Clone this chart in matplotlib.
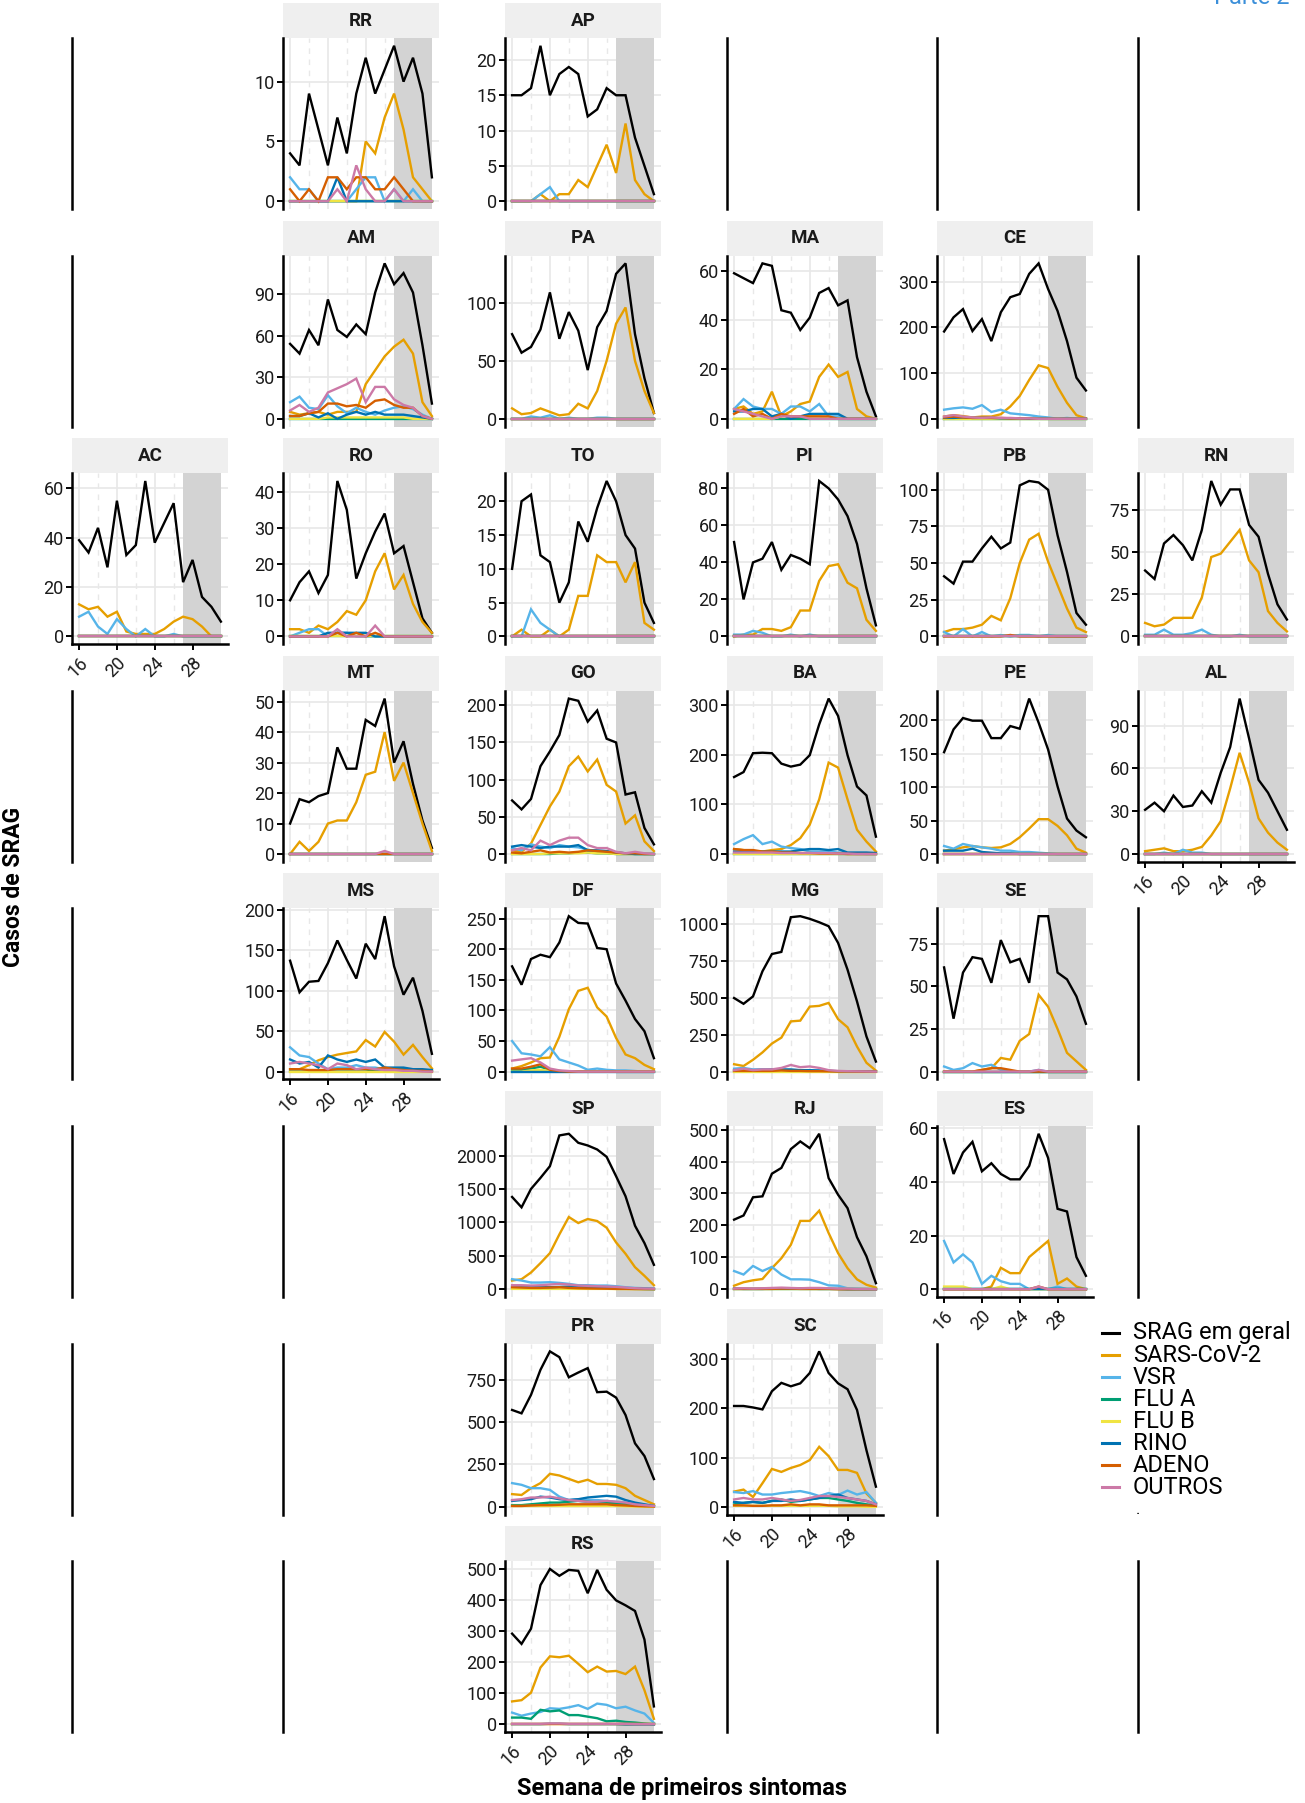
import matplotlib.pyplot as plt
from matplotlib.lines import Line2D
from matplotlib.ticker import MultipleLocator, FuncFormatter

plt.rcParams['font.family'] = ['Roboto', 'DejaVu Sans']

# semanas epidemiologicas
weeks = [16, 17, 18, 19, 20, 21, 22, 23, 24, 25, 26, 27, 28, 29, 30, 31]
zeros16 = [0, 0, 0, 0, 0, 0, 0, 0, 0, 0, 0, 0, 0, 0, 0, 0]

srag = {
    'RR': [4, 3, 9, 6, 3, 7, 4, 9, 12, 9, 11, 13, 10, 12, 9, 2],
    'AP': [15, 15, 16, 22, 15, 18, 19, 18, 12, 13, 16, 15, 15, 9, 5, 1],
    'AM': [54, 47, 64, 53, 86, 64, 59, 68, 61, 91, 112, 97, 105, 91, 53, 11],
    'PA': [73, 57, 62, 77, 109, 69, 92, 76, 42, 79, 93, 125, 134, 73, 35, 5],
    'MA': [59, 57, 55, 63, 62, 44, 43, 36, 41, 51, 53, 46, 48, 25, 11, 1],
    'CE': [191, 222, 240, 192, 218, 170, 233, 266, 273, 317, 340, 284, 236, 170, 90, 62],
    'AC': [39, 34, 44, 28, 55, 33, 37, 63, 38, 46, 54, 22, 31, 16, 12, 6],
    'RO': [10, 15, 18, 12, 17, 43, 35, 16, 23, 29, 34, 23, 25, 15, 5, 1],
    'TO': [10, 20, 21, 12, 11, 5, 8, 17, 14, 19, 23, 20, 15, 13, 5, 2],
    'PI': [51, 20, 40, 42, 51, 36, 44, 42, 39, 84, 80, 74, 65, 50, 26, 6],
    'PB': [41, 36, 51, 51, 60, 68, 60, 64, 103, 106, 105, 100, 69, 44, 16, 8],
    'RN': [39, 34, 55, 60, 54, 45, 63, 92, 78, 87, 87, 66, 59, 37, 19, 10],
    'MT': [10, 18, 17, 19, 20, 35, 28, 28, 44, 42, 51, 30, 37, 23, 11, 2],
    'GO': [72, 60, 74, 118, 138, 160, 209, 206, 178, 193, 155, 150, 80, 83, 35, 13],
    'BA': [155, 165, 203, 204, 203, 182, 176, 180, 199, 261, 313, 278, 199, 136, 118, 35],
    'PE': [152, 186, 203, 199, 199, 173, 173, 191, 187, 232, 196, 156, 101, 53, 35, 25],
    'AL': [31, 36, 30, 41, 33, 34, 44, 36, 57, 75, 109, 81, 52, 43, 30, 17],
    'MS': [137, 98, 111, 112, 134, 162, 138, 115, 158, 139, 192, 130, 95, 116, 75, 22],
    'DF': [172, 142, 184, 191, 187, 211, 254, 243, 242, 202, 200, 144, 116, 86, 66, 22],
    'MG': [498, 459, 509, 679, 796, 810, 1045, 1052, 1034, 1011, 984, 871, 690, 475, 238, 68],
    'SE': [61, 31, 58, 67, 66, 52, 77, 64, 66, 52, 91, 91, 58, 54, 44, 28],
    'SP': [1380, 1225, 1500, 1665, 1840, 2300, 2325, 2190, 2150, 2090, 1980, 1690, 1390, 950, 690, 365],
    'RJ': [218, 231, 288, 291, 362, 380, 439, 463, 442, 487, 348, 296, 254, 163, 103, 19],
    'ES': [56, 43, 51, 55, 44, 47, 43, 41, 41, 46, 58, 49, 30, 29, 12, 5],
    'PR': [572, 552, 661, 809, 918, 884, 765, 793, 819, 677, 680, 645, 542, 375, 300, 164],
    'SC': [205, 205, 202, 198, 235, 252, 245, 251, 272, 316, 272, 251, 239, 197, 115, 41],
    'RS': [292, 259, 308, 448, 500, 478, 497, 494, 422, 497, 433, 399, 383, 365, 273, 58],
}

sars = {
    'RR': [0, 0, 0, 0, 0, 0, 0, 0, 5, 4, 7, 9, 6, 2, 1, 0],
    'AP': [0, 0, 0, 1, 0, 1, 1, 3, 2, 5, 8, 4, 11, 3, 1, 0],
    'AM': [5, 3, 4, 5, 3, 5, 5, 5, 25, 35, 45, 52, 57, 47, 12, 2],
    'PA': [9, 4, 5, 9, 6, 3, 4, 13, 9, 24, 50, 82, 96, 50, 24, 5],
    'MA': [4, 5, 2, 3, 11, 1, 3, 6, 7, 17, 22, 17, 19, 4, 1, 0],
    'CE': [5, 8, 6, 3, 5, 5, 10, 27, 50, 85, 117, 111, 70, 35, 8, 1],
    'AC': [13, 11, 12, 8, 10, 2, 1, 1, 1, 3, 6, 8, 7, 4, 0, 0],
    'RO': [2, 2, 1, 3, 2, 4, 7, 6, 10, 18, 23, 13, 17, 9, 4, 1],
    'TO': [0, 1, 0, 0, 1, 0, 1, 6, 6, 12, 11, 11, 8, 11, 2, 1],
    'PI': [0, 1, 1, 4, 4, 3, 5, 14, 14, 30, 38, 39, 29, 26, 9, 3],
    'PB': [3, 5, 5, 6, 8, 14, 11, 26, 50, 66, 70, 51, 35, 19, 6, 3],
    'RN': [8, 6, 7, 11, 11, 11, 23, 47, 49, 56, 63, 45, 38, 15, 8, 3],
    'MT': [0, 4, 1, 4, 10, 11, 11, 17, 26, 27, 40, 24, 30, 20, 10, 1],
    'GO': [5, 3, 14, 39, 64, 84, 118, 131, 111, 127, 93, 84, 41, 52, 17, 4],
    'BA': [10, 8, 5, 5, 8, 10, 18, 32, 59, 110, 184, 174, 110, 49, 25, 5],
    'PE': [5, 7, 10, 12, 10, 9, 10, 15, 25, 38, 52, 52, 42, 28, 8, 2],
    'AL': [2, 3, 4, 2, 2, 3, 5, 13, 23, 46, 71, 50, 25, 15, 8, 3],
    'MS': [3, 3, 8, 14, 18, 21, 23, 25, 39, 31, 49, 37, 21, 33, 18, 4],
    'DF': [5, 9, 15, 22, 23, 57, 102, 132, 137, 105, 90, 55, 28, 22, 11, 4],
    'MG': [50, 38, 80, 130, 190, 230, 340, 345, 440, 445, 465, 355, 300, 170, 60, 7],
    'SE': [0, 0, 0, 0, 1, 2, 8, 7, 18, 22, 45, 38, 25, 11, 6, 1],
    'SP': [130, 150, 250, 390, 540, 820, 1080, 990, 1050, 1020, 920, 700, 530, 330, 200, 60],
    'RJ': [11, 22, 28, 32, 66, 97, 139, 214, 214, 246, 176, 113, 66, 31, 14, 5],
    'ES': [0, 0, 0, 0, 0, 1, 8, 6, 6, 12, 15, 18, 2, 4, 1, 0],
    'PR': [75, 70, 110, 140, 195, 185, 165, 145, 160, 135, 135, 130, 110, 65, 40, 15],
    'SC': [31, 35, 20, 48, 77, 71, 79, 85, 95, 122, 103, 75, 75, 69, 27, 8],
    'RS': [74, 78, 102, 183, 219, 216, 221, 195, 168, 186, 170, 172, 162, 186, 110, 18],
}

vsr = {
    'RR': [2, 1, 1, 0, 0, 0, 0, 1, 2, 2, 0, 1, 0, 1, 0, 0],
    'AP': [0, 0, 0, 1, 2, 0, 0, 0, 0, 0, 0, 0, 0, 0, 0, 0],
    'AM': [12, 16, 8, 7, 17, 9, 4, 8, 5, 3, 6, 8, 9, 7, 3, 0],
    'PA': [0, 0, 2, 1, 3, 0, 1, 0, 0, 1, 1, 0, 0, 0, 0, 0],
    'MA': [4, 8, 5, 4, 4, 2, 5, 5, 3, 6, 1, 1, 0, 0, 0, 0],
    'CE': [20, 23, 25, 22, 30, 15, 20, 12, 10, 8, 5, 3, 0, 2, 0, 0],
    'AC': [8, 10, 4, 1, 7, 3, 0, 3, 0, 0, 1, 0, 0, 0, 0, 0],
    'RO': [0, 1, 2, 2, 0, 1, 1, 0, 0, 0, 0, 0, 0, 0, 0, 0],
    'TO': [0, 0, 4, 2, 1, 0, 0, 0, 0, 0, 0, 0, 0, 0, 0, 0],
    'PI': [1, 1, 3, 2, 0, 0, 1, 0, 1, 0, 0, 0, 0, 0, 0, 0],
    'PB': [3, 0, 5, 0, 3, 0, 1, 0, 1, 1, 0, 1, 0, 0, 0, 0],
    'RN': [1, 1, 4, 1, 1, 2, 4, 1, 0, 0, 1, 0, 0, 0, 0, 0],
    'GO': [8, 5, 13, 10, 8, 12, 10, 9, 6, 3, 3, 2, 1, 0, 0, 0],
    'BA': [20, 30, 38, 20, 25, 15, 12, 10, 5, 5, 5, 3, 1, 1, 0, 0],
    'PE': [12, 8, 15, 12, 10, 8, 5, 5, 3, 3, 2, 1, 0, 0, 0, 0],
    'AL': [0, 0, 1, 0, 3, 1, 1, 0, 0, 0, 0, 0, 0, 0, 0, 0],
    'MS': [30, 20, 18, 10, 3, 5, 5, 8, 5, 5, 3, 3, 2, 2, 2, 1],
    'DF': [50, 30, 28, 25, 40, 20, 15, 10, 3, 5, 3, 2, 2, 1, 0, 0],
    'MG': [20, 25, 15, 15, 10, 10, 8, 5, 5, 5, 3, 3, 2, 1, 0, 0],
    'SE': [3, 1, 2, 5, 3, 4, 1, 0, 0, 0, 1, 0, 0, 0, 0, 0],
    'SP': [150, 130, 100, 100, 105, 95, 80, 60, 60, 55, 55, 45, 30, 20, 15, 10],
    'RJ': [57, 46, 73, 57, 70, 46, 31, 31, 30, 22, 12, 11, 3, 2, 1, 0],
    'ES': [18, 10, 13, 10, 2, 5, 3, 2, 2, 0, 0, 0, 1, 0, 0, 0],
    'PR': [140, 130, 110, 110, 100, 60, 40, 45, 40, 40, 35, 30, 25, 15, 10, 5],
    'SC': [30, 28, 32, 25, 25, 28, 30, 32, 28, 22, 28, 24, 33, 25, 30, 8],
    'RS': [38, 28, 35, 40, 52, 50, 55, 62, 50, 67, 63, 52, 57, 45, 35, 5],
}

flu_a = {
    'GO': [0, 0, 0, 0, 0, 1, 1, 2, 2, 1, 1, 0, 0, 0, 0, 0],
    'MS': [0, 0, 0, 0, 0, 0, 0, 0, 0, 2, 3, 4, 3, 2, 1, 0],
    'DF': [2, 3, 5, 8, 3, 1, 0, 0, 0, 0, 0, 0, 0, 0, 0, 0],
    'MG': [2, 2, 2, 2, 3, 3, 3, 2, 2, 2, 1, 1, 1, 0, 0, 0],
    'SP': [10, 10, 10, 10, 10, 12, 15, 15, 15, 15, 15, 12, 8, 5, 3, 2],
    'PR': [10, 10, 15, 20, 25, 25, 30, 35, 30, 25, 25, 20, 15, 10, 5, 2],
    'SC': [5, 8, 10, 8, 12, 15, 10, 12, 15, 18, 18, 15, 12, 8, 5, 2],
    'RS': [22, 22, 18, 47, 42, 45, 30, 30, 25, 20, 10, 12, 8, 6, 3, 1],
}

flu_b = {
    'AM': [0, 0, 0, 0, 1, 1, 1, 1, 1, 1, 1, 1, 1, 0, 0, 0],
    'MA': [0, 0, 0, 0, 0, 1, 1, 1, 1, 1, 0, 0, 0, 0, 0, 0],
    'GO': [0, 0, 0, 0, 1, 1, 1, 1, 2, 1, 1, 0, 0, 0, 0, 0],
    'DF': [0, 0, 2, 3, 1, 0, 0, 0, 0, 0, 0, 0, 0, 0, 0, 0],
    'SP': [5, 5, 5, 5, 5, 5, 5, 5, 5, 5, 5, 3, 2, 1, 0, 0],
    'PR': [5, 5, 5, 5, 5, 5, 5, 5, 5, 5, 5, 5, 3, 2, 1, 0],
    'SC': [2, 2, 2, 2, 2, 2, 2, 2, 2, 2, 2, 1, 1, 1, 0, 0],
    'ES': [1, 1, 1, 0, 0, 0, 1, 0, 0, 0, 0, 0, 0, 0, 0, 0],
}

rino = {
    'RR': [0, 0, 0, 0, 0, 2, 0, 0, 0, 0, 0, 0, 0, 0, 0, 0],
    'AM': [2, 2, 4, 1, 4, 0, 3, 5, 3, 5, 3, 3, 3, 2, 1, 0],
    'MA': [3, 3, 4, 4, 1, 2, 0, 1, 2, 2, 2, 2, 0, 0, 0, 0],
    'CE': [2, 2, 3, 2, 2, 2, 1, 1, 1, 0, 0, 0, 0, 0, 0, 0],
    'RO': [0, 0, 0, 0, 1, 1, 1, 1, 1, 0, 0, 0, 0, 0, 0, 0],
    'GO': [10, 12, 10, 8, 10, 10, 10, 12, 5, 5, 4, 2, 1, 0, 0, 0],
    'BA': [5, 5, 5, 5, 5, 5, 5, 8, 10, 10, 8, 10, 3, 3, 3, 2],
    'PE': [5, 5, 5, 8, 3, 2, 1, 1, 0, 0, 0, 0, 0, 0, 0, 0],
    'MS': [15, 10, 12, 5, 20, 15, 12, 15, 12, 15, 5, 5, 5, 3, 3, 2],
    'MG': [10, 10, 10, 12, 15, 15, 15, 10, 10, 8, 5, 3, 2, 1, 0, 0],
    'SP': [40, 35, 30, 30, 30, 35, 40, 35, 30, 25, 20, 15, 10, 8, 5, 3],
    'RJ': [2, 1, 1, 1, 2, 2, 2, 2, 2, 1, 1, 1, 0, 0, 0, 0],
    'PR': [35, 40, 45, 60, 55, 45, 40, 45, 55, 60, 65, 60, 40, 25, 15, 5],
    'SC': [10, 8, 10, 8, 12, 12, 15, 12, 15, 18, 22, 25, 18, 15, 12, 5],
    'RS': [1, 1, 1, 1, 2, 2, 1, 1, 1, 1, 1, 1, 0, 0, 0, 0],
}

adeno = {
    'RR': [1, 0, 1, 0, 2, 2, 1, 2, 2, 1, 1, 2, 1, 0, 0, 0],
    'AM': [2, 2, 4, 5, 11, 11, 9, 10, 8, 13, 14, 10, 8, 8, 2, 0],
    'MA': [2, 4, 1, 2, 0, 2, 1, 1, 1, 1, 1, 0, 0, 0, 0, 0],
    'CE': [3, 5, 3, 2, 2, 2, 2, 1, 1, 1, 0, 0, 0, 0, 0, 0],
    'RO': [0, 0, 0, 0, 0, 1, 0, 1, 0, 1, 0, 0, 0, 0, 0, 0],
    'PB': [0, 0, 0, 0, 0, 0, 0, 1, 0, 0, 0, 0, 0, 0, 0, 0],
    'GO': [2, 1, 3, 5, 2, 3, 2, 3, 5, 4, 3, 2, 1, 1, 0, 0],
    'BA': [10, 8, 8, 5, 5, 3, 3, 2, 2, 1, 1, 1, 0, 0, 0, 0],
    'MS': [3, 3, 2, 2, 2, 3, 3, 3, 3, 3, 5, 3, 2, 1, 1, 0],
    'DF': [5, 5, 8, 12, 3, 1, 0, 0, 0, 0, 0, 0, 0, 0, 0, 0],
    'MG': [5, 5, 5, 5, 5, 8, 5, 5, 3, 3, 2, 1, 1, 0, 0, 0],
    'SE': [0, 0, 0, 0, 1, 2, 2, 1, 0, 0, 0, 0, 0, 0, 0, 0],
    'SP': [30, 25, 20, 20, 25, 30, 20, 15, 12, 10, 8, 5, 5, 3, 2, 2],
    'RJ': [1, 1, 1, 1, 1, 2, 2, 1, 1, 1, 1, 0, 0, 0, 0, 0],
    'ES': [0, 0, 0, 0, 0, 0, 0, 0, 0, 0, 1, 0, 0, 0, 0, 0],
    'PR': [5, 5, 8, 10, 10, 12, 15, 15, 15, 15, 15, 10, 8, 5, 3, 2],
    'SC': [3, 3, 2, 2, 3, 3, 5, 3, 5, 5, 3, 3, 3, 3, 3, 2],
}

outros = {
    'RR': [0, 0, 0, 0, 0, 1, 0, 3, 1, 0, 0, 1, 0, 0, 0, 0],
    'AM': [6, 10, 5, 8, 19, 22, 25, 29, 12, 23, 23, 14, 10, 8, 2, 0],
    'MA': [4, 3, 2, 1, 0, 1, 1, 1, 0, 0, 0, 0, 0, 0, 0, 0],
    'CE': [5, 8, 5, 3, 2, 3, 2, 2, 1, 1, 0, 0, 0, 0, 0, 0],
    'RO': [0, 0, 0, 0, 0, 2, 0, 0, 0, 3, 0, 0, 0, 0, 0, 0],
    'MT': [0, 0, 0, 0, 0, 0, 0, 0, 0, 0, 1, 0, 0, 0, 0, 0],
    'GO': [5, 8, 5, 18, 12, 18, 22, 22, 12, 8, 8, 3, 1, 3, 1, 0],
    'BA': [3, 3, 3, 3, 3, 2, 2, 2, 2, 2, 2, 1, 1, 0, 0, 0],
    'MS': [10, 12, 10, 8, 3, 10, 8, 3, 5, 3, 2, 2, 1, 1, 0, 0],
    'DF': [18, 20, 22, 15, 5, 2, 1, 0, 0, 0, 0, 0, 0, 0, 0, 0],
    'MG': [10, 20, 10, 15, 15, 25, 45, 30, 35, 25, 10, 5, 3, 2, 1, 0],
    'SE': [0, 0, 0, 0, 0, 0, 0, 0, 0, 0, 1, 0, 0, 0, 0, 0],
    'SP': [60, 60, 55, 60, 70, 80, 70, 55, 50, 45, 40, 35, 25, 15, 10, 8],
    'RJ': [2, 3, 2, 3, 4, 5, 4, 3, 4, 4, 3, 2, 2, 1, 1, 0],
    'ES': [0, 0, 0, 0, 0, 0, 0, 0, 0, 0, 1, 0, 0, 0, 0, 0],
    'PR': [40, 45, 55, 55, 60, 50, 40, 35, 30, 30, 35, 30, 25, 15, 10, 5],
    'SC': [15, 18, 15, 15, 18, 15, 12, 14, 18, 22, 22, 20, 18, 15, 12, 5],
    'RS': [2, 2, 2, 2, 3, 3, 2, 2, 2, 2, 2, 2, 2, 1, 1, 1],
}

series_names = ['SRAG em geral', 'SARS-CoV-2', 'VSR', 'FLU A', 'FLU B', 'RINO', 'ADENO', 'OUTROS']
series_data = [srag, sars, vsr, flu_a, flu_b, rino, adeno, outros]
colors = ['#000000', '#E69F00', '#56B4E9', '#009E73', '#F0E442', '#0072B2', '#D55E00', '#CC79A7']

# grade geografica: estado -> (linha, coluna)
grid = {
    'RR': (0, 1), 'AP': (0, 2),
    'AM': (1, 1), 'PA': (1, 2), 'MA': (1, 3), 'CE': (1, 4),
    'AC': (2, 0), 'RO': (2, 1), 'TO': (2, 2), 'PI': (2, 3), 'PB': (2, 4), 'RN': (2, 5),
    'MT': (3, 1), 'GO': (3, 2), 'BA': (3, 3), 'PE': (3, 4), 'AL': (3, 5),
    'MS': (4, 1), 'DF': (4, 2), 'MG': (4, 3), 'SE': (4, 4),
    'SP': (5, 2), 'RJ': (5, 3), 'ES': (5, 4),
    'PR': (6, 2), 'SC': (6, 3),
    'RS': (7, 2),
}
y_step = {
    'RR': 5, 'AP': 5, 'AM': 30, 'PA': 50, 'MA': 20, 'CE': 100, 'AC': 20, 'RO': 10,
    'TO': 5, 'PI': 20, 'PB': 25, 'RN': 25, 'MT': 10, 'GO': 50, 'BA': 100, 'PE': 50,
    'AL': 30, 'MS': 50, 'DF': 50, 'MG': 250, 'SE': 25, 'SP': 500, 'RJ': 100,
    'ES': 20, 'PR': 250, 'SC': 100, 'RS': 100,
}
shade_start, shade_end = 27, 31

W, H, DPI = 1305, 1803, 100
fig = plt.figure(figsize=(W / DPI, H / DPI), dpi=DPI)

col_x = [72, 283, 505, 727, 937, 1138]
PW, PH, SH = 156, 171, 35
AXW = 1.8


def row_top(r):
    return 3 + 217.6 * r


def px_axes(x, y, w, h):
    return fig.add_axes([x / W, 1 - (y + h) / H, w / W, h / H])


occupied = set(grid.values())
legend_cell = (6, 5)

# paineis vazios: so a linha do eixo y
for r in range(8):
    for c in range(6):
        if (r, c) in occupied or (r, c) == legend_cell:
            continue
        ax = px_axes(col_x[c], row_top(r) + SH, PW, PH)
        ax.patch.set_visible(False)
        for s in ['top', 'right', 'bottom']:
            ax.spines[s].set_visible(False)
        ax.spines['left'].set_linewidth(AXW)
        ax.set_xticks([])
        ax.set_yticks([])

for uf, (r, c) in grid.items():
    x0 = col_x[c]
    y0 = row_top(r)
    # faixa com o nome
    st = px_axes(x0, y0, PW, SH)
    st.set_facecolor('#efefef')
    for s in st.spines.values():
        s.set_visible(False)
    st.set_xticks([])
    st.set_yticks([])
    st.text(0.5, 0.5, uf, ha='center', va='center', fontsize=13.5,
            fontweight='bold', color='#1a1a1a', transform=st.transAxes)

    ax = px_axes(x0, y0 + SH, PW, PH)
    vals = [d.get(uf, zeros16) for d in series_data]
    top = max(max(v) for v in vals)
    ax.set_xlim(15.25, 31.75)
    ax.set_ylim(-0.05 * top, 1.05 * top)

    ax.set_axisbelow(True)
    ax.set_xticks([16, 20, 24, 28])
    ax.set_xticks([18, 22, 26, 30], minor=True)
    ax.yaxis.set_major_locator(MultipleLocator(y_step[uf]))
    ax.yaxis.set_major_formatter(FuncFormatter(lambda v, p: f'{v:g}'))
    ax.grid(which='major', color='#e8e8e8', linewidth=1.2)
    ax.grid(which='minor', axis='x', color='#e8e8e8', linewidth=1.0, linestyle=(0, (4, 4)))

    ax.axvspan(shade_start, shade_end, color='#d3d3d3', lw=0, zorder=1)
    for vv, col in zip(vals, colors):
        ax.plot(weeks, vv, color=col, lw=1.7, zorder=2, solid_joinstyle='miter')

    for s in ['top', 'right']:
        ax.spines[s].set_visible(False)
    ax.spines['left'].set_linewidth(AXW)
    ax.tick_params(axis='y', length=4, width=1.4, labelsize=13, pad=2, labelcolor='#1a1a1a')
    ax.tick_params(axis='x', which='minor', length=0)

    below = (r + 1, c)
    if below in occupied:
        ax.spines['bottom'].set_visible(False)
        ax.tick_params(axis='x', which='major', length=0, labelbottom=False)
    else:
        ax.spines['bottom'].set_linewidth(AXW)
        ax.tick_params(axis='x', which='major', length=4, width=1.4, labelsize=13,
                       pad=3, labelcolor='#1a1a1a')
        for lbl in ax.get_xticklabels():
            lbl.set_rotation(45)
            lbl.set_ha('right')
            lbl.set_va('top')
            lbl.set_rotation_mode('anchor')

# legenda
for i, (name, col) in enumerate(zip(series_names, colors)):
    yy = 1333 + 22 * i
    fig.add_artist(Line2D([1102 / W, 1119 / W], [1 - yy / H, 1 - yy / H], color=col, lw=2.2))
    fig.text(1133 / W, 1 - yy / H, name, ha='left', va='center', fontsize=17, color='black')
fig.text(1136 / W, 1 - 1514 / H, '.', ha='left', va='baseline', fontsize=12, color='black')

fig.text(14 / W, 1 - 887 / H, 'Casos de SRAG', rotation=90, ha='center', va='center',
         fontsize=16.5, fontweight='bold', color='black')
fig.text(682 / W, 1 - 1789 / H, 'Semana de primeiros sintomas', ha='center', va='center',
         fontsize=17, fontweight='bold', color='black')
fig.text(1290 / W, 1 - 4 / H, 'Parte 2', ha='right', va='baseline', fontsize=17, color='#3b8fd9')

fig.savefig('out.png', dpi=DPI)
plt.close('all')
